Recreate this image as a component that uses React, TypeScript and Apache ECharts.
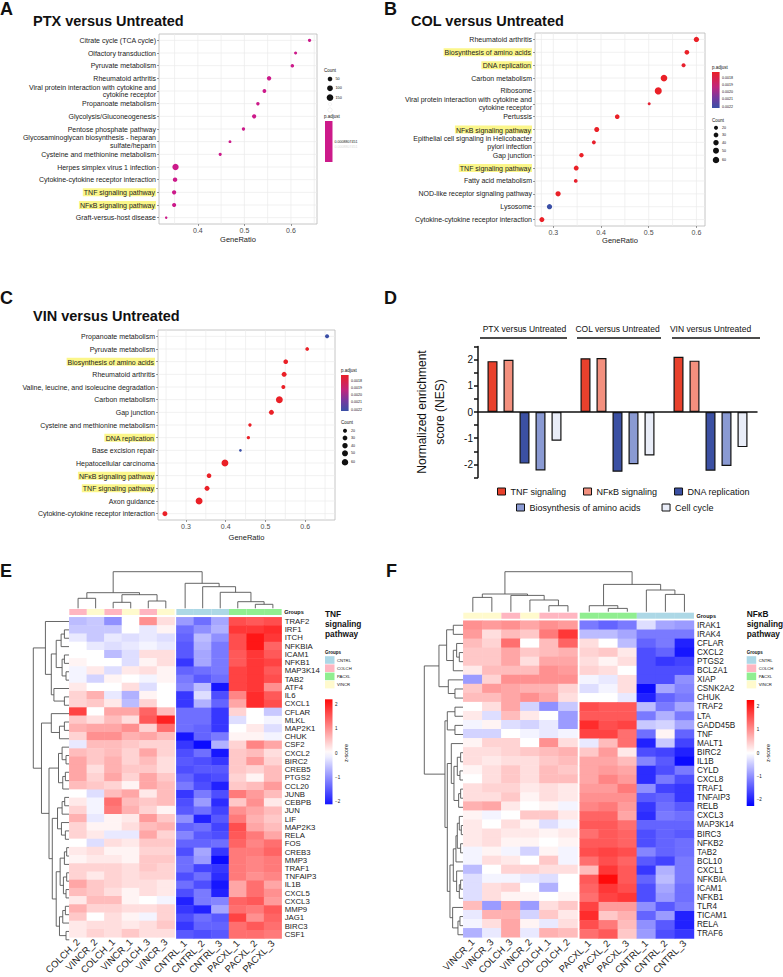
import React, { useEffect, useRef } from 'react';
import * as echarts from 'echarts';

const FONT = "'Liberation Sans', Arial, Helvetica, sans-serif";

// ---------------- Panel A : PTX versus Untreated
const aPathways = ['Citrate cycle (TCA cycle)', 'Olfactory transduction', 'Pyruvate metabolism', 'Rheumatoid arthritis', 'Viral protein interaction with cytokine and\ncytokine receptor', 'Propanoate metabolism', 'Glycolysis/Gluconeogenesis', 'Pentose phosphate pathway', 'Glycosaminoglycan biosynthesis - heparan\nsulfate/heparin', 'Cysteine and methionine metabolism', 'Herpes simplex virus 1 infection', 'Cytokine-cytokine receptor interaction', 'TNF signaling pathway', 'NFκB signaling pathway', 'Graft-versus-host disease'];
const aGeneRatio = [0.640, 0.610, 0.603, 0.553, 0.543, 0.529, 0.521, 0.498, 0.469, 0.448, 0.352, 0.351, 0.349, 0.349, 0.332];
const aCount = [16, 11, 20, 45, 25, 18, 37, 15, 8, 13, 130, 45, 40, 35, 3];
const aPadjust = 0.0008807451;
const aCountLegend = [50, 100, 150];
const aTicks = [0.4, 0.5, 0.6];
const aGridX = [0.35, 0.4, 0.45, 0.5, 0.55, 0.6, 0.65];

// ---------------- Panel B : COL versus Untreated
const bPathways = ['Rheumatoid arthritis', 'Biosynthesis of amino acids', 'DNA replication', 'Carbon metabolism', 'Ribosome', 'Viral protein interaction with cytokine and\ncytokine receptor', 'Pertussis', 'NFκB signaling pathway', 'Epithelial cell signaling in Helicobacter\npylori infection', 'Gap junction', 'TNF signaling pathway', 'Fatty acid metabolism', 'NOD-like receptor signaling pathway', 'Lysosome', 'Cytokine-cytokine receptor interaction'];
const bGeneRatio = [0.600, 0.580, 0.573, 0.532, 0.520, 0.501, 0.434, 0.391, 0.385, 0.359, 0.348, 0.347, 0.310, 0.292, 0.276];
const bCount = [38, 28, 20, 64, 72, 10, 28, 33, 20, 24, 33, 17, 38, 38, 33];
const bPadjust = [0.00180, 0.00180, 0.00181, 0.00180, 0.00180, 0.00182, 0.00180, 0.00180, 0.00181, 0.00180, 0.00180, 0.00181, 0.00180, 0.00222, 0.00180];
const bTicks = [0.3, 0.4, 0.5, 0.6];
const bGridX = [0.275, 0.3, 0.35, 0.4, 0.45, 0.5, 0.55, 0.6];

// ---------------- Panel C : VIN versus Untreated
const cPathways = ['Propanoate metabolism', 'Pyruvate metabolism', 'Biosynthesis of amino acids', 'Rheumatoid arthritis', 'Valine, leucine, and isoleucine degradation', 'Carbon metabolism', 'Gap junction', 'Cysteine and methionine metabolism', 'DNA replication', 'Base excision repair', 'Hepatocellular carcinoma', 'NFκB signaling pathway', 'TNF signaling pathway', 'Axon guidance', 'Cytokine-cytokine receptor interaction'];
const cGeneRatio = [0.655, 0.605, 0.551, 0.547, 0.545, 0.535, 0.515, 0.461, 0.457, 0.437, 0.398, 0.358, 0.353, 0.333, 0.247];
const cCount = [20, 17, 28, 33, 20, 68, 33, 13, 13, 8, 68, 28, 33, 68, 33];
const cPadjust = [0.00221, 0.00180, 0.00180, 0.00180, 0.00180, 0.00180, 0.00180, 0.00180, 0.00180, 0.00222, 0.00180, 0.00180, 0.00180, 0.00180, 0.00180];
const cTicks = [0.3, 0.4, 0.5, 0.6];
const cGridX = [0.25, 0.3, 0.35, 0.4, 0.45, 0.5, 0.55, 0.6, 0.65];

const bcCountLegend = [20, 30, 40, 50, 60];
const padjLegend = [0.0018, 0.0019, 0.0020, 0.0021, 0.0022];
const padjColors = ['#ea2027', '#c0267c', '#76399e', '#3a4fa6'];
const highlighted = ['TNF signaling pathway', 'NFκB signaling pathway', 'Biosynthesis of amino acids', 'DNA replication'];

// ---------------- Panel D : NES
const dComparisons = ['PTX versus Untreated', 'COL versus Untreated', 'VIN versus Untreated'];
const dSets = ['TNF signaling', 'NFκB signaling', 'DNA replication', 'Biosynthesis of amino acids', 'Cell cycle'];
const dTNF = [1.94, 2.05, 2.11];
const dNFKB = [1.99, 2.06, 1.96];
const dDNA = [-1.97, -2.28, -2.24];
const dBIO = [-2.23, -1.99, -2.06];
const dCELL = [-1.10, -1.66, -1.34];
const dColors = ['#e8412c', '#f3907e', '#3b50a3', '#8a9ad3', '#e9edf8'];

// ---------------- Panel E : TNF heatmap
const eSamples = ['COLCH_2', 'VINCR_2', 'COLCH_1', 'VINCR_1', 'COLCH_3', 'VINCR_3', 'CNTRL_1', 'CNTRL_2', 'CNTRL_3', 'PACXL_1', 'PACXL_2', 'PACXL_3'];
const eGenes = ['TRAF2', 'IRF1', 'ITCH', 'NFKBIA', 'ICAM1', 'NFKB1', 'MAP3K14', 'TAB2', 'ATF4', 'IL6', 'CXCL1', 'CFLAR', 'MLKL', 'MAP2K1', 'CHUK', 'CSF2', 'CXCL2', 'BIRC2', 'CREB5', 'PTGS2', 'CCL20', 'JUNB', 'CEBPB', 'JUN', 'LIF', 'MAP2K3', 'RELA', 'FOS', 'CREB3', 'MMP3', 'TRAF1', 'TNFAIP3', 'IL1B', 'CXCL5', 'CXCL3', 'MMP9', 'JAG1', 'BIRC3', 'CSF1'];
const eZ = [
  [-0.6, -0.5, -1.0, 0.0, 1.0, 0.3, -0.9, -1.3, -0.8, 1.6, 1.5, 1.6],
  [-0.5, -0.5, -0.5, 0.0, -0.2, 0.1, -1.3, -1.0, -0.7, 1.8, 1.8, 1.9],
  [-0.2, -0.5, -0.2, -0.3, -0.2, -0.3, -1.4, -0.6, -1.0, 1.6, 2.1, 1.8],
  [0.0, -0.2, -0.3, -0.2, -0.1, -0.2, -1.5, -0.7, -1.2, 1.6, 2.1, 1.4],
  [0.0, 0.0, -0.6, -0.3, 0.3, 0.3, -1.5, -0.8, -1.2, 1.5, 1.8, 1.5],
  [0.1, 0.0, 0.0, -0.3, 0.1, 0.3, -1.8, -0.8, -1.2, 1.5, 1.8, 1.7],
  [-0.1, 0.2, -0.3, 0.2, 0.3, 0.1, -1.4, -1.3, -1.2, 1.7, 1.8, 1.5],
  [-0.1, -0.4, 0.1, 0.0, -0.1, 0.1, -1.2, -1.5, -1.3, 1.7, 1.8, 1.6],
  [0.2, 0.0, 0.0, 0.3, -0.3, 0.0, -1.1, -0.6, -2.1, 1.7, 1.8, 1.0],
  [0.4, 0.7, -0.2, -0.7, 0.1, 0.0, -1.8, -0.3, -1.6, 1.1, 1.9, 1.5],
  [0.4, 0.5, 0.2, -0.6, 0.4, 0.0, -1.8, -0.7, -1.4, 0.8, 1.9, 1.6],
  [1.7, 0.0, 0.8, 0.8, 1.4, 0.6, -1.3, -1.3, -1.8, 0.4, 0.0, -0.5],
  [0.5, 0.3, 0.6, 0.3, 1.5, 2.0, -1.3, -1.3, -1.8, -0.3, 0.0, -0.1],
  [0.7, 0.8, 0.8, 1.0, 0.4, 1.3, -1.3, -1.4, -1.8, 0.0, 0.2, -0.3],
  [0.4, 1.0, 1.0, 0.7, 0.8, 0.6, -2.1, -1.4, -1.2, 0.1, 0.1, -0.1],
  [-0.2, 0.6, 0.6, 0.5, 0.4, 0.4, -1.8, -2.2, -0.7, 0.4, 1.1, 0.8],
  [0.6, 0.5, 0.6, 0.4, 0.8, 0.4, -1.6, -1.3, -2.1, 0.5, 0.6, 0.3],
  [0.8, 0.5, 0.7, 0.4, 0.6, 0.3, -1.5, -1.6, -1.8, 0.5, 0.9, 0.4],
  [0.8, 0.3, 0.7, 0.5, 0.5, 0.3, -1.6, -1.5, -1.5, 0.5, 0.4, 0.6],
  [0.8, 0.4, 0.8, 0.4, 0.8, 0.5, -1.4, -1.7, -1.6, 0.4, 0.1, 0.6],
  [0.6, 0.5, 0.4, 0.1, 0.8, 0.6, -1.2, -1.6, -2.0, 0.5, 0.6, 0.9],
  [0.0, -0.3, 0.6, 0.8, 0.2, 0.6, -1.8, -1.2, -1.6, 1.2, 0.9, 0.6],
  [0.2, -0.1, 1.3, 0.6, 0.5, 0.6, -1.6, -0.9, -1.9, 0.5, 1.0, 0.2],
  [0.4, -0.1, 1.2, 0.7, 0.4, 0.1, -1.5, -1.3, -1.7, 1.0, 0.8, 0.6],
  [0.7, -0.2, 0.1, 0.2, 0.9, 0.5, -1.0, -2.0, -1.5, 1.2, 0.7, 0.5],
  [0.4, 0.1, 0.1, 0.3, 0.6, 0.7, -1.4, -1.3, -1.7, 1.6, 0.8, 0.6],
  [0.4, 0.2, -0.2, -0.2, 0.8, 0.4, -1.1, -1.5, -1.6, 1.5, 1.2, 0.8],
  [0.0, -0.3, 0.3, 0.2, 0.5, 0.5, -1.4, -1.4, -1.3, 1.4, 1.1, 1.3],
  [0.2, 0.3, 0.1, 0.1, 0.4, 0.4, -1.6, -0.8, -1.8, 1.2, 1.2, 1.4],
  [0.1, 0.2, 0.2, 0.1, 0.5, 0.5, -1.3, -0.9, -2.2, 1.2, 1.1, 1.2],
  [0.4, 0.4, 0.4, 0.3, 0.5, 0.4, -1.3, -1.7, -1.8, 1.2, 1.1, 1.2],
  [0.4, 0.2, 0.4, 0.3, 0.4, 0.4, -1.6, -1.3, -1.9, 1.2, 1.0, 1.1],
  [0.8, 0.5, 0.4, 0.3, 0.3, 0.2, -1.3, -1.6, -2.1, 0.8, 1.3, 0.8],
  [0.6, 0.5, 0.3, 0.1, 0.3, 0.2, -1.6, -1.2, -2.0, 0.8, 1.3, 1.0],
  [0.2, 0.6, 0.6, 0.1, 0.0, -0.1, -2.0, -1.2, -1.1, 1.4, 1.5, 0.9],
  [0.7, 0.4, 0.4, 0.3, 0.3, 0.4, -1.8, -2.0, -0.8, 1.3, 1.2, 1.5],
  [0.5, 0.0, 0.3, 0.1, -0.1, 0.4, -1.6, -1.3, -1.5, 1.7, 1.0, 1.4],
  [0.2, 0.3, 0.3, 0.2, 0.3, 0.5, -1.8, -1.4, -1.4, 1.3, 1.5, 1.3],
  [0.2, 0.4, 0.3, 0.5, 0.3, 0.3, -1.5, -1.6, -1.5, 1.3, 1.3, 1.2],
];

// ---------------- Panel F : NFkB heatmap
const fSamples = ['VINCR_1', 'VINCR_3', 'COLCH_3', 'VINCR_2', 'COLCH_1', 'COLCH_2', 'PACXL_1', 'PACXL_2', 'PACXL_3', 'CNTRL_1', 'CNTRL_2', 'CNTRL_3'];
const fGenes = ['IRAK1', 'IRAK4', 'CFLAR', 'CXCL2', 'PTGS2', 'BCL2A1', 'XIAP', 'CSNK2A2', 'CHUK', 'TRAF2', 'LTA', 'GADD45B', 'TNF', 'MALT1', 'BIRC2', 'IL1B', 'CYLD', 'CXCL8', 'TRAF1', 'TNFAIP3', 'RELB', 'CXCL3', 'MAP3K14', 'BIRC3', 'NFKB2', 'TAB2', 'BCL10', 'CXCL1', 'NFKBIA', 'ICAM1', 'NFKB1', 'TLR4', 'TICAM1', 'RELA', 'TRAF6'];
const fZ = [
  [1.0, 0.9, 1.0, 0.8, 1.0, 0.9, -1.2, -1.4, -1.2, -0.3, -0.8, -0.9],
  [0.9, 0.3, 0.6, 0.5, 1.2, 1.8, -0.6, -0.6, -0.8, -1.2, -1.2, -1.2],
  [0.6, 0.4, 1.3, 0.0, 0.6, 1.4, 0.3, 0.0, -0.6, -1.4, -1.2, -2.0],
  [0.5, 0.5, 0.8, 0.5, 0.6, 0.7, 0.4, 0.5, 0.2, -1.6, -1.4, -2.1],
  [0.5, 0.5, 0.8, 0.3, 0.8, 0.8, 0.3, 0.1, 0.3, -1.6, -1.8, -1.7],
  [0.2, 0.6, 0.6, 0.6, 1.0, 0.9, 0.4, 0.3, 0.0, -1.6, -1.6, -1.6],
  [-0.9, 0.4, 1.0, 1.0, 1.0, 1.0, -0.1, -0.2, 0.3, -1.6, -1.6, -1.0],
  [0.5, 0.9, 0.8, 0.7, 0.7, 0.4, -0.3, -0.1, 0.3, -2.2, -0.8, -1.1],
  [0.6, 0.6, 0.8, 1.0, 0.8, 0.3, 0.0, 0.0, -0.2, -2.0, -1.4, -1.2],
  [0.0, 0.3, 0.8, -0.4, -1.0, -0.5, 1.6, 1.5, 1.5, -0.6, -1.2, -0.8],
  [0.2, -0.3, 0.6, 0.2, 0.0, -0.9, 1.5, 1.5, 1.5, -1.2, -0.7, -1.2],
  [-0.1, 0.1, -0.3, -0.4, -0.2, -0.9, 1.9, 1.6, 1.7, -0.5, -0.4, -0.8],
  [-0.4, -0.4, 0.0, -0.1, -0.2, -0.1, 1.7, 1.7, 1.3, -1.3, 0.1, -1.4],
  [0.1, 0.4, 0.4, 0.0, 1.0, 0.3, -0.2, 0.6, 1.3, -2.0, -0.5, -1.7],
  [0.3, 0.3, 0.4, 0.5, 0.6, 0.7, 0.5, 0.9, 0.2, -1.6, -1.7, -2.0],
  [0.3, 0.2, 0.3, 0.3, 0.5, 0.6, 0.8, 0.8, 0.6, -1.1, -1.5, -2.2],
  [0.1, 0.3, 0.5, 0.3, 0.6, 0.5, 0.8, 0.9, 0.8, -1.9, -1.6, -1.2],
  [0.0, 0.3, 0.5, 0.3, 0.6, 0.6, 0.8, 1.1, 0.9, -1.9, -1.2, -1.6],
  [0.3, 0.4, 0.4, 0.2, 0.3, 0.2, 0.9, 0.9, 1.2, -1.0, -1.7, -1.8],
  [0.3, 0.3, 0.5, 0.1, 0.3, 0.2, 1.0, 1.0, 1.0, -1.5, -1.4, -1.8],
  [0.7, 0.8, 0.2, 0.0, 0.1, -0.1, 1.1, 1.2, 0.9, -1.8, -1.3, -1.5],
  [0.1, -0.1, 0.0, 0.5, 0.5, 0.2, 1.4, 1.4, 0.8, -1.9, -1.2, -1.3],
  [0.2, 0.0, 0.3, 0.1, -0.3, -0.1, 1.5, 1.5, 1.3, -1.4, -1.4, -1.4],
  [0.2, 0.3, 0.2, 0.2, 0.1, 0.2, 1.3, 1.5, 1.4, -1.6, -1.4, -1.5],
  [0.2, 0.3, 0.1, 0.1, 0.0, 0.1, 1.5, 1.5, 1.4, -1.6, -1.4, -1.3],
  [-0.1, 0.1, -0.1, -0.4, 0.1, -0.1, 1.6, 1.7, 1.6, -1.1, -1.4, -1.3],
  [-0.1, 0.3, 0.2, 0.0, 0.5, -0.1, 1.3, 1.6, 1.4, -1.5, -1.7, -1.2],
  [-0.6, 0.0, 0.4, 0.4, 0.3, 0.3, 0.6, 1.8, 1.5, -1.8, -0.7, -1.2],
  [-0.3, -0.1, -0.1, -0.2, -0.3, 0.0, 1.5, 2.2, 1.5, -1.4, -0.6, -1.2],
  [-0.3, 0.3, 0.4, 0.0, -0.7, 0.0, 1.4, 1.8, 1.6, -1.6, -0.8, -1.3],
  [-0.3, 0.3, 0.1, 0.1, 0.0, 0.1, 1.3, 1.7, 1.8, -1.6, -0.9, -1.3],
  [0.6, -0.9, 0.8, -0.9, 0.3, 0.5, 1.7, 0.9, 0.9, -1.0, -1.5, -1.2],
  [-0.2, 0.7, 0.7, -0.4, 0.5, 0.2, 1.9, 0.5, 0.7, -1.4, -0.9, -2.0],
  [-0.1, 0.3, 0.8, 0.1, -0.2, 0.3, 1.6, 1.2, 0.6, -1.0, -1.5, -2.0],
  [-0.7, -0.2, 0.8, -0.2, 0.7, 0.6, 1.3, 1.5, 0.5, -0.9, -1.6, -1.8],
];

// dendrograms: leaf = index in display order, node = [left, right, height]
type Tree = number | [Tree, Tree, number];
const eColTree: Tree = [[[0, 1, 10], [[2, 3, 6], [4, 5, 7.3], 13.6], 15.6], [6, [7, [8, [9, [10, 11, 4], 6.6], 16], 21.6], 25], 36.6];
const eRowTree: Tree = [
  [0, [[[[1, 2, 15], 3, 25], [[4, 5, 15], [6, 7, 10], 22], 40], [8, [9, 10, 15], 47], 55], 73],
  [[11, [[12, 13, 15], 14, 30], 55],
    [[[15, [16, 17, 10], 22], [[18, 19, 12], 20, 20], 33],
      [[[[21, 22, 14], 23, 22], [24, [25, 26, 12], 24], 36],
        [[[[27, 28, 8], 29, 15], [[30, 31, 8], [32, 33, 10], 18], 28], [[[34, 35, 12], 36, 20], [37, 38, 10], 30], 40], 52], 62], 85],
  110];
const fColTree: Tree = [[[0, 1, 14.3], [2, [3, [4, 5, 6], 11.7], 16.3], 17.7], [[6, [7, 8, 3.3], 6], [9, [10, 11, 17.3], 21.7], 27.3], 40];
const fRowTree: Tree = [
  [[[0, 1, 30], [[2, [3, 4, 12], 20], 5, 30], 50], [6, [7, 8, 25], 45], 73],
  [[[9, 10, 25], [11, 12, 25], 48],
    [[13, [[[14, 15, 8], [16, 17, 10], 18], [[18, 19, 8], 20, 14], 28], 36],
      [[[[[21, [22, 23, 6], 12], [24, 25, 8], 18], 26, 22], [27, [[28, 29, 8], 30, 12], 20], 30], [31, [[32, 33, 10], 34, 16], 32], 40], 48], 55],
  117];

const groupNames = ['CNTRL', 'COLCH', 'PACXL', 'VINCR'];
const groupColors: Record<string, string> = { CNTRL: '#add8e6', COLCH: '#ffb6c1', PACXL: '#90ee90', VINCR: '#fffacd' };
const heatPalette = ['#0000ff', '#ffffff', '#ff0000'];
const heatMin = -2.3;
const heatMax = 2.3;
const zTicks = [2, 1, 0, -1, -2];

// ---------------- helpers
function sizeFn(c1: number, s1: number, c2: number, s2: number) {
  const b = (s2 - s1) / (Math.sqrt(c2) - Math.sqrt(c1));
  const a = s1 - b * Math.sqrt(c1);
  return (c: number) => a + b * Math.sqrt(c);
}
const sizeA = sizeFn(50, 4.6, 150, 6.7);
const sizeBC = sizeFn(20, 4, 60, 6.5);

function hexToRgb(h: string) {
  const n = parseInt(h.slice(1), 16);
  return [(n >> 16) & 255, (n >> 8) & 255, n & 255];
}
function paletteAt(pal: string[], t: number) {
  t = Math.max(0, Math.min(1, t));
  const seg = t * (pal.length - 1);
  const i = Math.min(pal.length - 2, Math.floor(seg));
  const f = seg - i;
  const a = hexToRgb(pal[i]);
  const b = hexToRgb(pal[i + 1]);
  const c = a.map((v, k) => Math.round(v + (b[k] - v) * f));
  return `rgb(${c[0]},${c[1]},${c[2]})`;
}

function dendroSegments(tree: Tree, pos: (i: number) => number): number[][] {
  const segs: number[][] = [];
  const walk = (t: Tree): [number, number] => {
    if (typeof t === 'number') return [pos(t), 0];
    const a = walk(t[0]);
    const b = walk(t[1]);
    segs.push([a[0], a[1], b[0], b[1], t[2]]);
    return [(a[0] + b[0]) / 2, t[2]];
  };
  walk(tree);
  return segs;
}
function rootHeight(t: Tree) {
  return typeof t === 'number' ? 0 : t[2];
}

function buildOption() {
  const grids: any[] = [];
  const xAxes: any[] = [];
  const yAxes: any[] = [];
  const series: any[] = [];
  const graphics: any[] = [];

  const txt = (text: string, x: number, y: number, o: any = {}) => {
    graphics.push({
      type: 'text', x, y, rotation: o.rotation || 0, silent: true,
      style: {
        text, fontSize: o.size || 8, fontWeight: o.bold ? 'bold' : 'normal', fontFamily: FONT,
        fill: o.color || '#111', align: o.align || 'left', verticalAlign: o.va || 'middle', lineHeight: o.lh,
      },
    });
  };

  // ---------- scatter (dot plot) panels
  const addDotPanel = (p: any) => {
    const gi = grids.length;
    grids.push({ left: p.left, top: p.top, width: p.width, height: p.height, show: true, borderColor: '#b8b8b8', borderWidth: 0.8, backgroundColor: '#ffffff' });
    const xi = xAxes.length;
    xAxes.push({
      gridIndex: gi, type: 'value', min: p.xmin, max: p.xmax,
      axisLine: { show: false },
      axisTick: { show: true, length: 2, customValues: p.ticks, lineStyle: { color: '#555', width: 0.6 } },
      axisLabel: { customValues: p.ticks, fontSize: 7, color: '#4d4d4d', margin: 3, fontFamily: FONT },
      splitLine: { show: false },
      name: 'GeneRatio', nameLocation: 'middle', nameGap: p.nameGap,
      nameTextStyle: { fontSize: 7.5, color: '#222', fontFamily: FONT },
    });
    const yi = yAxes.length;
    yAxes.push({
      gridIndex: gi, type: 'category', data: p.names, inverse: true,
      axisLine: { show: false },
      axisTick: { show: true, length: 2, alignWithLabel: true, lineStyle: { color: '#555', width: 0.6 } },
      axisLabel: {
        fontSize: 7, color: '#222', margin: 3, lineHeight: 7.6, fontFamily: FONT, interval: 0,
        formatter: (v: string) => (highlighted.indexOf(v) >= 0 ? `{h|${v}}` : v),
        rich: { h: { backgroundColor: '#fbf68a', fontSize: 7, color: '#222', fontFamily: FONT, padding: [1, 1, 0, 1] } },
      },
      splitLine: { show: false },
    });
    // panel grid lines (category centres and GeneRatio breaks)
    series.push({
      type: 'custom', xAxisIndex: xi, yAxisIndex: yi, silent: true, z: 1,
      data: [...p.names.map((_: string, i: number) => [p.xmin, i, 0]), ...p.gridX.map((v: number) => [v, 0, 1])],
      renderItem: (params: any, api: any) => {
        const cs = params.coordSys;
        const pt = api.coord([api.value(0), api.value(1)]);
        const shape = api.value(2) === 0
          ? { x1: cs.x, y1: pt[1], x2: cs.x + cs.width, y2: pt[1] }
          : { x1: pt[0], y1: cs.y, x2: pt[0], y2: cs.y + cs.height };
        return { type: 'line', shape, style: { stroke: '#ebebeb', lineWidth: 0.7 } };
      },
    });
    const si = series.length;
    series.push({
      type: 'scatter', xAxisIndex: xi, yAxisIndex: yi, z: 3,
      data: p.names.map((_: string, i: number) => [p.ratios[i], i, p.padj[i], p.counts[i]]),
      symbolSize: (v: number[]) => p.size(v[3]),
      itemStyle: p.color ? { color: p.color, opacity: 1 } : { opacity: 1 },
    });
    return si;
  };

  addDotPanel({ left: 159, top: 34, width: 158, height: 190, names: aPathways, ratios: aGeneRatio, counts: aCount, padj: aPathways.map(() => aPadjust), xmin: 0.3165, xmax: 0.656, ticks: aTicks, gridX: aGridX, nameGap: 11.5, size: sizeA, color: '#cc1a8a' });
  const sB = addDotPanel({ left: 535, top: 33, width: 170, height: 193, names: bPathways, ratios: bGeneRatio, counts: bCount, padj: bPadjust, xmin: 0.2616, xmax: 0.618, ticks: bTicks, gridX: bGridX, nameGap: 9.5, size: sizeBC });
  const sC = addDotPanel({ left: 158, top: 330, width: 177, height: 190, names: cPathways, ratios: cGeneRatio, counts: cCount, padj: cPadjust, xmin: 0.2296, xmax: 0.675, ticks: cTicks, gridX: cGridX, nameGap: 13.5, size: sizeBC });

  // dot-plot legends
  txt('Count', 324, 70.7, { size: 4.5 });
  aCountLegend.forEach((c, i) => {
    const y = 79 + i * 9.3;
    graphics.push({ type: 'circle', x: 330, y, shape: { r: sizeA(c) / 2 }, style: { fill: '#111' }, silent: true });
    txt(String(c), 335.5, y, { size: 3.8 });
  });
  [104.3, 110].forEach((y, i) => graphics.push({ type: 'circle', x: 330, y, shape: { r: 1.6 + i * 0.6 }, style: { fill: 'none', stroke: '#e2e2e2', lineWidth: 0.5 }, silent: true }));
  txt('p.adjust', 324, 116.3, { size: 4.5 });
  graphics.push({ type: 'rect', shape: { x: 325, y: 121, width: 7.5, height: 41 }, style: { fill: '#cc1a8a' }, silent: true });
  txt(String(aPadjust), 334.5, 141.7, { size: 3.6 });
  txt(String(aPadjust), 334.5, 146.5, { size: 3.6, color: '#d8d8d8' });

  const padjBar = (x: number, top: number, h: number, countTop: number, cx: number, countY: number[]) => {
    txt('p.adjust', x, top - 4.5, { size: 4.5 });
    const stops = padjColors.map((c, i) => ({ offset: i === 0 ? 0 : 0.12 + (0.88 * i) / (padjColors.length - 1), color: c }));
    graphics.push({
      type: 'rect', shape: { x, y: top, width: 7.6, height: h }, silent: true,
      style: { fill: { type: 'linear', x: 0, y: 0, x2: 0, y2: 1, colorStops: stops } },
    });
    const vTop = 0.00172, vBot = 0.00222;
    padjLegend.forEach((v) => txt(v.toFixed(4), x + 10, top + ((v - vTop) / (vBot - vTop)) * h, { size: 3.6 }));
    txt('Count', x, countTop, { size: 4.5 });
    bcCountLegend.forEach((c, i) => {
      graphics.push({ type: 'circle', x: cx, y: countY[i], shape: { r: sizeBC(c) / 2 }, style: { fill: '#111' }, silent: true });
      txt(String(c), x + 10, countY[i], { size: 3.6 });
    });
  };
  padjBar(712, 72, 36, 120.7, 716, [127.7, 135, 142.7, 150.7, 160]);
  padjBar(341, 375, 36, 422.7, 345, [430.7, 438, 445.7, 453.3, 462.3]);

  // ---------- Panel D
  const gD = grids.length;
  grids.push({ left: 478, top: 346.5, width: 279, height: 131 });
  const xD = xAxes.length;
  xAxes.push({ gridIndex: gD, type: 'category', data: dComparisons, axisLine: { onZero: true, lineStyle: { color: '#111', width: 1.5 } }, axisTick: { show: false }, axisLabel: { show: false } });
  xAxes.push({ gridIndex: gD, type: 'category', position: 'top', offset: 5, data: dComparisons, axisLine: { show: false }, axisTick: { show: false }, axisLabel: { fontSize: 8.5, color: '#111', margin: 8, interval: 0, hideOverlap: false, fontFamily: FONT } });
  const yD = yAxes.length;
  yAxes.push({
    gridIndex: gD, type: 'value', min: -2.5, max: 2.5, interval: 0.5,
    axisLine: { show: true, lineStyle: { color: '#111', width: 1.5 } },
    axisTick: { show: true, length: 4, lineStyle: { color: '#111', width: 1.5 } },
    axisLabel: { fontSize: 10, color: '#111', margin: 5, fontFamily: FONT, formatter: (v: number) => (Math.abs(v - Math.round(v)) < 1e-9 ? String(Math.round(v)) : '') },
    splitLine: { show: false },
    name: 'Normalized enrichment\nscore (NES)', nameLocation: 'middle', nameRotate: 90, nameGap: 29,
    nameTextStyle: { fontSize: 12, lineHeight: 18, color: '#111', fontFamily: FONT },
  });
  [dTNF, dNFKB, dDNA, dBIO, dCELL].forEach((vals, i) => {
    series.push({
      type: 'bar', name: dSets[i], xAxisIndex: xD, yAxisIndex: yD, data: vals, barWidth: 10, barGap: '60%',
      itemStyle: { color: dColors[i], borderColor: '#111', borderWidth: 1.2 },
    });
  });
  [[480, 567], [577, 661], [672, 760]].forEach(([a, b]) => graphics.push({ type: 'line', shape: { x1: a, y1: 338, x2: b, y2: 338 }, style: { stroke: '#111', lineWidth: 1.5 }, silent: true }));

  // ---------- heatmap panels
  const heatIdx: number[] = [];
  const addHeat = (c: any) => {
    const n = c.genes.length;
    const colX = (i: number) => i + 0.5 + (i >= 6 ? c.gap : 0);
    const totalCols = 12 + c.gap;
    const heatH = n * c.rowH;
    const rightLeft = c.left + (6 + c.gap) * c.colW;
    // column dendrogram
    let g = grids.length;
    grids.push({ left: c.left, top: c.colDendTop, width: totalCols * c.colW, height: c.colDendH });
    xAxes.push({ gridIndex: g, type: 'value', min: 0, max: totalCols, show: false });
    yAxes.push({ gridIndex: g, type: 'value', min: 0, max: rootHeight(c.colTree), show: false });
    const mkDendro = (rows: boolean, data: number[][]) => ({
      type: 'custom', xAxisIndex: xAxes.length - 1, yAxisIndex: yAxes.length - 1, silent: true, data,
      renderItem: (_p: any, api: any) => {
        const pa = api.value(0), ha = api.value(1), pb = api.value(2), hb = api.value(3), h = api.value(4);
        const raw = rows ? [[ha, pa], [h, pa], [h, pb], [hb, pb]] : [[pa, ha], [pa, h], [pb, h], [pb, hb]];
        return { type: 'polyline', shape: { points: raw.map((q) => api.coord(q)) }, style: { stroke: '#555555', lineWidth: 0.9, fill: 'none' } };
      },
    });
    series.push(mkDendro(false, dendroSegments(c.colTree, colX)));
    // row dendrogram
    g = grids.length;
    grids.push({ left: c.rowDendLeft, top: c.top, width: c.left - c.rowDendLeft, height: heatH });
    xAxes.push({ gridIndex: g, type: 'value', min: 0, max: rootHeight(c.rowTree), inverse: true, show: false });
    yAxes.push({ gridIndex: g, type: 'value', min: 0, max: n, inverse: true, show: false });
    series.push(mkDendro(true, dendroSegments(c.rowTree, (i) => i + 0.5)));
    // annotation + heat blocks
    [0, 1].forEach((b) => {
      const samples = c.samples.slice(b * 6, b * 6 + 6);
      const left = b === 0 ? c.left : rightLeft;
      let ga = grids.length;
      grids.push({ left, top: c.annTop, width: 6 * c.colW, height: c.annH });
      xAxes.push({ gridIndex: ga, type: 'category', data: samples, show: false });
      yAxes.push({ gridIndex: ga, type: 'value', min: 0, max: 1, show: false });
      series.push({
        type: 'bar', xAxisIndex: xAxes.length - 1, yAxisIndex: yAxes.length - 1, barCategoryGap: '0%', silent: true,
        data: samples.map((s: string) => ({ value: 1, itemStyle: { color: groupColors[s.split('_')[0]] } })),
      });
      ga = grids.length;
      grids.push({ left, top: c.top, width: 6 * c.colW, height: heatH });
      xAxes.push({
        gridIndex: ga, type: 'category', data: samples, axisLine: { show: false }, axisTick: { show: false },
        axisLabel: { rotate: 45, fontSize: 9.5, color: '#222', margin: 3, interval: 0, fontFamily: FONT },
      });
      yAxes.push({
        gridIndex: ga, type: 'category', data: c.genes, inverse: true, position: b === 1 ? 'right' : 'left',
        axisLine: { show: false }, axisTick: { show: false },
        axisLabel: { show: b === 1, fontSize: c.rowFont, color: '#222', margin: 3, interval: 0, fontFamily: FONT },
      });
      const data: number[][] = [];
      c.z.forEach((row: number[], r: number) => row.slice(b * 6, b * 6 + 6).forEach((v, k) => data.push([k, r, v])));
      heatIdx.push(series.length);
      series.push({ type: 'heatmap', xAxisIndex: xAxes.length - 1, yAxisIndex: yAxes.length - 1, data, silent: true, itemStyle: { borderWidth: 0 }, progressive: 0 });
    });
    // legend block
    txt('Groups', c.left + totalCols * c.colW + 2.5, c.annTop + c.annH / 2, { size: 5.5, bold: true });
    txt(c.title, c.legX, c.titleY, { size: 8.3, bold: true, va: 'top', lh: 10 });
    txt('Groups', c.legX, c.groupsY, { size: 4.5, bold: true });
    groupNames.forEach((gname, i) => {
      const y = c.groupsY + 7.3 + i * 8.2;
      graphics.push({ type: 'rect', shape: { x: c.legX, y: y - 3.8, width: 9.5, height: 7.6 }, style: { fill: groupColors[gname] }, silent: true });
      txt(gname, c.legX + 12, y, { size: 4.2 });
    });
    const scale = (v: number) => c.barTop + ((c.barVTop - v) / (c.barVTop - c.barVBot)) * c.barH;
    const stops: any[] = [];
    for (let k = 0; k <= 20; k++) {
      const v = c.barVTop + ((c.barVBot - c.barVTop) * k) / 20;
      stops.push({ offset: k / 20, color: paletteAt(heatPalette, (v - heatMin) / (heatMax - heatMin)) });
    }
    graphics.push({ type: 'rect', shape: { x: c.legX, y: c.barTop, width: 7.5, height: c.barH }, style: { fill: { type: 'linear', x: 0, y: 0, x2: 0, y2: 1, colorStops: stops } }, silent: true });
    zTicks.forEach((v) => txt(v < 0 ? '\u2212' + Math.abs(v) : String(v), c.legX + 10, scale(v), { size: 4.5 }));
    txt('z-score', c.legX + 21, scale(0), { size: 5.5, rotation: Math.PI / 2, align: 'center' });
  };

  addHeat({
    samples: eSamples, genes: eGenes, z: eZ, colTree: eColTree, rowTree: eRowTree,
    left: 69.3, colW: 17.55, gap: 0.1, top: 617.3, rowH: 326.7 / 39, annTop: 609, annH: 6,
    colDendTop: 571.7, colDendH: 36.6, rowDendLeft: 33.3, rowFont: 7.8,
    title: 'TNF\nsignaling\npathway', legX: 325, titleY: 609, groupsY: 652.7,
    barTop: 699.3, barH: 105, barVTop: 2.2, barVBot: -2.1,
  });
  addHeat({
    samples: fSamples, genes: fGenes, z: fZ, colTree: fColTree, rowTree: fRowTree,
    left: 463.3, colW: 19.03, gap: 0.12, top: 620.7, rowH: 318.6 / 35, annTop: 612.7, annH: 6,
    colDendTop: 571.7, colDendH: 40, rowDendLeft: 424.3, rowFont: 8.2,
    title: 'NFκB\nsignaling\npathway', legX: 746.7, titleY: 608.5, groupsY: 652.7,
    barTop: 700, barH: 106, barVTop: 2.3, barVBot: -2.3,
  });

  // panel letters and titles
  [['A', 0, 8.5], ['B', 384, 8.5], ['C', 0, 297.5], ['D', 384, 298], ['E', 0, 571], ['F', 386, 571]].forEach(([l, x, y]) =>
    txt(l as string, x as number, y as number, { size: 18, bold: true }));
  txt('PTX versus Untreated', 33, 21, { size: 14.5, bold: true });
  txt('COL versus Untreated', 411, 21, { size: 14.5, bold: true });
  txt('VIN versus Untreated', 33, 316, { size: 14.5, bold: true });

  return {
    animation: false,
    backgroundColor: '#ffffff',
    textStyle: { fontFamily: FONT },
    grid: grids,
    xAxis: xAxes,
    yAxis: yAxes,
    legend: [
      { data: dSets.slice(0, 3), left: 497, top: 487, padding: 0, itemWidth: 8, itemHeight: 7, itemGap: 17, icon: 'rect', selectedMode: false, textStyle: { fontSize: 9, color: '#111', fontFamily: FONT }, itemStyle: { borderColor: '#111', borderWidth: 1 } },
      { data: dSets.slice(3), left: 516, top: 503, padding: 0, itemWidth: 8, itemHeight: 7, itemGap: 21, icon: 'rect', selectedMode: false, textStyle: { fontSize: 9, color: '#111', fontFamily: FONT }, itemStyle: { borderColor: '#111', borderWidth: 1 } },
    ],
    visualMap: [
      { type: 'continuous', show: false, seriesIndex: [sB, sC], dimension: 2, min: 0.0018, max: 0.0022, inRange: { color: padjColors } },
      { type: 'continuous', show: false, seriesIndex: heatIdx, dimension: 2, min: heatMin, max: heatMax, inRange: { color: heatPalette } },
    ],
    series,
    graphic: graphics,
  };
}

export default function App() {
  const ref = useRef<HTMLDivElement>(null);
  useEffect(() => {
    document.body.style.margin = '0';
    const chart = echarts.init(ref.current as HTMLDivElement, null, { renderer: 'svg' });
    chart.setOption(buildOption() as any);
    return () => chart.dispose();
  }, []);
  return <div ref={ref} style={{ width: 783, height: 977 }} />;
}
